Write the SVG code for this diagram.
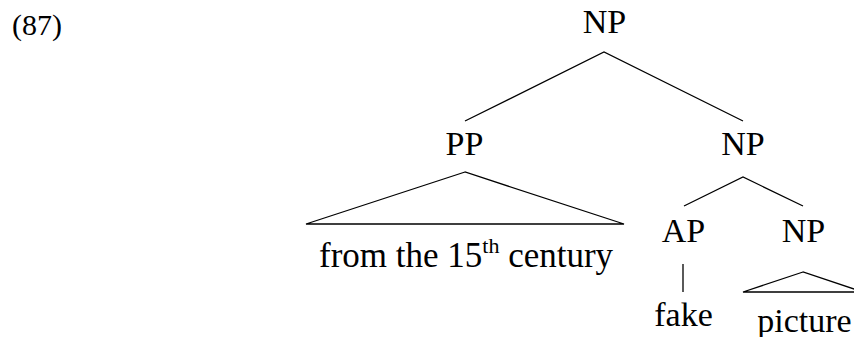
<svg xmlns="http://www.w3.org/2000/svg" width="854" height="337" viewBox="0 0 854 337">
<style>
text{font-family:"Liberation Serif","DejaVu Serif",serif;font-size:34px;fill:#000}
.n{text-anchor:middle}
.e{stroke:#000;stroke-width:1.3;fill:none;stroke-linejoin:miter}
</style>
<rect width="854" height="337" fill="#fff"/>
<text id="label" x="12" y="35" font-family="Liberation Serif, DejaVu Serif, serif" style="font-size:30px">(87)</text>
<g id="np-root"><text class="n" x="604.5" y="33" font-family="Liberation Serif, serif">NP</text></g>
<g id="pp"><text class="n" x="464.5" y="155" font-family="Liberation Serif, serif">PP</text></g>
<g id="np-mid"><text class="n" x="743" y="155" font-family="Liberation Serif, serif">NP</text></g>
<g id="ap"><text class="n" x="683.5" y="242" font-family="Liberation Serif, serif">AP</text></g>
<g id="np-low"><text class="n" x="803.5" y="242" font-family="Liberation Serif, serif">NP</text></g>
<g id="pp-leaf"><text x="319" y="267" font-family="Liberation Serif, serif" style="font-size:35px">from the 15<tspan dy="-14" style="font-size:22px">th</tspan><tspan dy="14"> century</tspan></text></g>
<g id="fake"><text class="n" x="683.5" y="326" font-family="Liberation Serif, serif">fake</text></g>
<g id="picture"><text class="n" x="804.5" y="332" font-family="Liberation Serif, serif">picture</text></g>
<g id="connectors">
<path class="e" d="M465,121 L604,52 L743,121"/>
<path class="e" d="M465,172 L306,224 L624,224 Z"/>
<path class="e" d="M684,206 L743,177 L803,206"/>
<path class="e" d="M683,264 L683,292"/>
<path class="e" d="M803,272 L743,292 L863,292 Z"/>
</g>
</svg>
